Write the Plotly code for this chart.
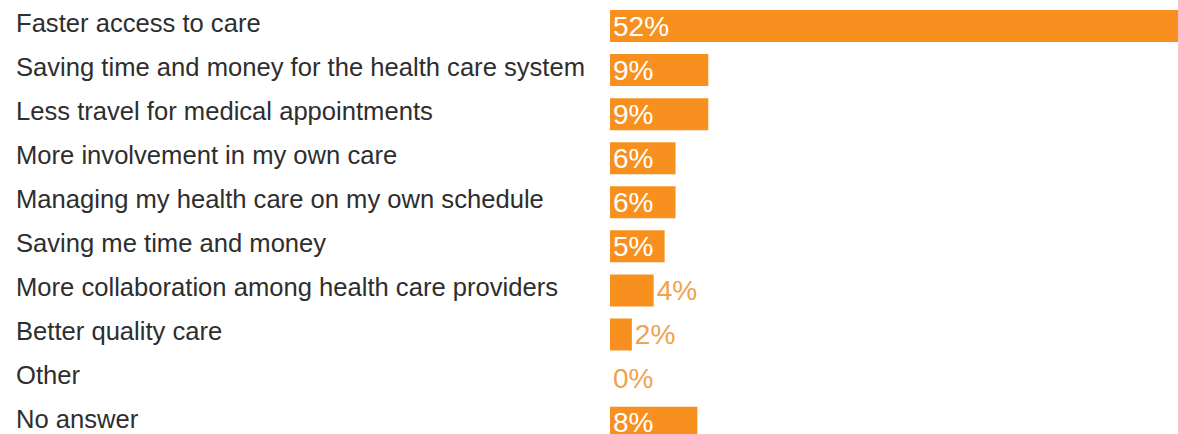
import plotly.graph_objects as go

# Survey answers and the share of respondents choosing each one
categories = [
    "Faster access to care",
    "Saving time and money for the health care system",
    "Less travel for medical appointments",
    "More involvement in my own care",
    "Managing my health care on my own schedule",
    "Saving me time and money",
    "More collaboration among health care providers",
    "Better quality care",
    "Other",
    "No answer",
]
shares = [52, 9, 9, 6, 6, 5, 4, 2, 0, 8]

BAR_COLOR = "#F7901E"
OUTSIDE_TEXT = "#F0A24F"
LABEL_COLOR = "#2E2E2E"
FONT = "Liberation Sans"

# Narrow bars carry their value outside, wide bars inside
positions = ["inside" if v >= 5 else "outside" for v in shares]

fig = go.Figure(
    go.Bar(
        x=shares,
        y=list(range(len(categories))),
        orientation="h",
        marker=dict(color=BAR_COLOR, line=dict(width=0)),
        text=[f"{v}%" for v in shares],
        textposition=positions,
        insidetextanchor="start",
        insidetextfont=dict(color="white", size=28, family=FONT),
        outsidetextfont=dict(color=OUTSIDE_TEXT, size=28, family=FONT),
        constraintext="none",
        cliponaxis=False,
        hoverinfo="skip",
    )
)

# Category labels, left aligned in the left margin
for i, name in enumerate(categories):
    fig.add_annotation(
        x=0,
        xref="paper",
        y=i,
        yref="y",
        text=name,
        showarrow=False,
        xanchor="left",
        yanchor="middle",
        xshift=-596,
        yshift=3.5,
        font=dict(size=25.6, color=LABEL_COLOR, family=FONT),
    )

fig.update_layout(
    width=1178,
    height=434,
    margin=dict(l=610, r=0, t=0, b=0),
    paper_bgcolor="white",
    plot_bgcolor="white",
    bargap=0.274,
    showlegend=False,
    xaxis=dict(range=[0, 52], visible=False, fixedrange=True),
    yaxis=dict(range=[9.258, -0.59], visible=False, fixedrange=True),
)

fig.write_html("out.html")
